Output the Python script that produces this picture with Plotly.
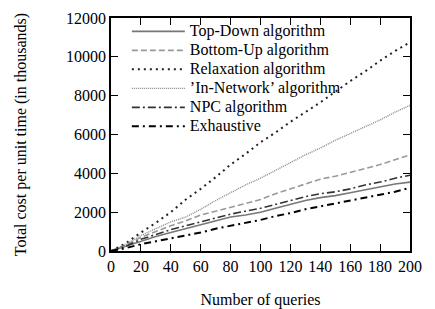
import plotly.graph_objects as go

queries = [0, 10, 20, 30, 40, 50, 60, 70, 80, 90, 100, 110, 120, 130, 140, 150, 160, 170, 180, 190, 200]

top_down = [0, 250, 500, 750, 950, 1150, 1350, 1550, 1750, 1850, 2000, 2200, 2400, 2600, 2750, 2850, 3000, 3150, 3300, 3450, 3550]
bottom_up = [0, 300, 700, 1000, 1300, 1550, 1850, 2050, 2250, 2450, 2650, 2950, 3200, 3450, 3700, 3850, 4050, 4250, 4450, 4700, 4950]
relaxation = [0, 400, 950, 1450, 2000, 2650, 3200, 3800, 4450, 5000, 5600, 6100, 6650, 7150, 7650, 8200, 8750, 9250, 9800, 10300, 10750]
in_network = [0, 350, 800, 1150, 1500, 1750, 2150, 2600, 3000, 3400, 3750, 4150, 4550, 4950, 5300, 5700, 6050, 6400, 6750, 7150, 7500]
npc = [0, 250, 600, 850, 1100, 1300, 1500, 1700, 1900, 2050, 2200, 2400, 2600, 2800, 2950, 3050, 3200, 3400, 3550, 3750, 3900]
exhaustive = [0, 150, 350, 500, 650, 800, 950, 1150, 1300, 1450, 1600, 1800, 1950, 2150, 2300, 2450, 2600, 2750, 2900, 3050, 3250]

x_ticks = list(range(0, 201, 20))
y_ticks = list(range(0, 12001, 2000))
y_tick_labels = [str(v) for v in y_ticks]

series = [
    ("Top-Down algorithm", top_down, dict(color="#777777", width=1.6, dash="solid")),
    ("Bottom-Up algorithm", bottom_up, dict(color="#999999", width=1.6, dash="6px,3px")),
    ("Relaxation algorithm", relaxation, dict(color="#222222", width=2, dash="2px,4px")),
    ("\u2019In-Network\u2019 algorithm", in_network, dict(color="#888888", width=1.4, dash="1px,1px")),
    ("NPC algorithm", npc, dict(color="#333333", width=1.6, dash="8px,3px,2px,3px")),
    ("Exhaustive", exhaustive, dict(color="#000000", width=2, dash="7px,4px,2px,4px")),
]

fig = go.Figure()
for name, vals, line in series:
    fig.add_trace(go.Scatter(
        x=queries, y=vals, mode="lines",
        name="<span style='font-size:16px'>" + name + "</span>",
        line=line))

font_family = "Liberation Serif"
fig.update_layout(
    width=435, height=309,
    margin=dict(l=111, r=25, t=18, b=58),
    paper_bgcolor="white", plot_bgcolor="white",
    font=dict(family=font_family, size=16, color="black"),
    showlegend=True,
    legend=dict(x=0.053, y=1.005, xanchor="left", yanchor="top",
                bgcolor="rgba(0,0,0,0)",
                font=dict(size=12, family=font_family, color="black"),
                tracegroupgap=0, itemwidth=53),
)
fig.update_xaxes(
    range=[0, 200], tickvals=x_ticks,
    ticks="inside", ticklen=7, tickcolor="black", tickwidth=1,
    showline=True, linecolor="black", linewidth=1.5, mirror="ticks",
    showgrid=False, zeroline=False, automargin=False,
    tickfont=dict(family=font_family, size=16),
    title=dict(text="Number of queries", font=dict(family=font_family, size=16), standoff=22),
)
fig.update_yaxes(
    range=[0, 12000], tickvals=y_ticks, ticktext=y_tick_labels,
    ticks="inside", ticklen=7, tickcolor="black", tickwidth=1,
    showline=True, linecolor="black", linewidth=1.5, mirror="ticks",
    showgrid=False, zeroline=False, automargin=False,
    tickfont=dict(family=font_family, size=16),
    title=dict(text="Total cost per unit time (in thousands)", font=dict(family=font_family, size=16), standoff=35),
)

fig.write_html("out.html", config={"displayModeBar": False},
               post_script="document.body.style.margin='0px';")
